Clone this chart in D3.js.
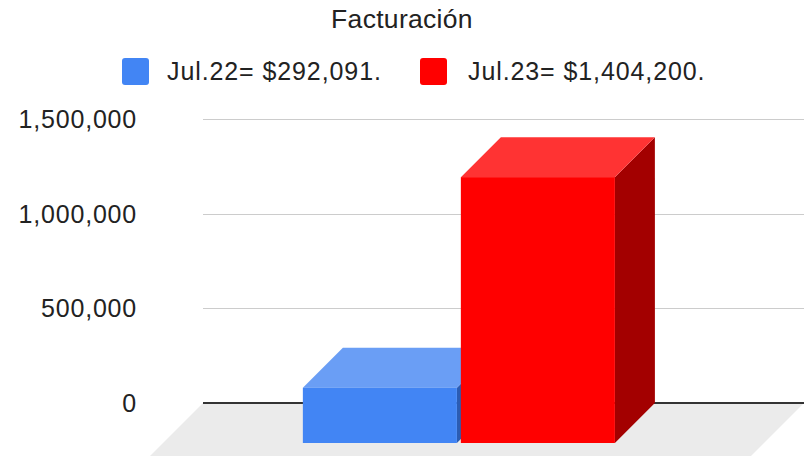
<!DOCTYPE html>
<html>
<head>
<meta charset="utf-8">
<script src="https://cdn.jsdelivr.net/npm/d3@7"></script>
<style>
  body { margin: 0; background: #fff; }
  text { font-family: Arial, "Liberation Sans", sans-serif; fill: #222; }
</style>
</head>
<body>
<svg id="chart" width="804" height="457"></svg>
<script>
// data
const title = "Facturación";
const categories = ["Jul"];
const seriesNames = ["Jul.22= $292,091.", "Jul.23= $1,404,200."];
const seriesValues = [292091, 1404200];
const tickValues = [0, 500000, 1000000, 1500000];
const tickLabels = ["0", "500,000", "1,000,000", "1,500,000"];

const svg = d3.select("#chart");
const W = 804, H = 457;

// back plane of the plot area
const plotLeft = 203, plotRight = 804, plotTop = 119, plotBottom = 403;
const depth = 40;       // bar depth (45 deg)
const floorDepth = 53;

const frontCol = ["#4285f4", "#ff0000"];
const topCol = ["#6a9ef5", "#ff3333"];
const sideCol = ["#2b5cb3", "#a30000"];

const y = d3.scaleLinear().domain([0, 1500000]).range([plotBottom, plotTop]);
const x0 = d3.scaleBand().domain(categories).range([plotLeft, plotRight])
    .paddingInner(0).paddingOuter(0.463).align(0.484);
const x1 = d3.scaleBand().domain(seriesNames).range([0, x0.bandwidth()])
    .paddingInner(0.025).paddingOuter(0);

// title
svg.append("text").attr("x", W / 2).attr("y", 28).attr("text-anchor", "middle")
    .style("font-size", "26.5px").style("letter-spacing", "0.3px").text(title);

// legend
const legendX = [122, 420];
const lg = svg.selectAll(".legend").data(seriesNames).enter().append("g").attr("class", "legend")
    .attr("transform", (d, i) => `translate(${legendX[i]},58)`);
lg.append("rect").attr("width", 27).attr("height", 27).attr("rx", 3)
    .attr("fill", (d, i) => frontCol[i]);
lg.append("text").attr("x", (d, i) => i ? 48 : 45).attr("y", 22).style("font-size", "25px")
    .style("letter-spacing", "0.9px").text(d => d);

// floor
svg.append("polygon")
    .attr("points", [[plotLeft, plotBottom], [plotRight, plotBottom], [plotRight - floorDepth, plotBottom + floorDepth], [plotLeft - floorDepth, plotBottom + floorDepth]].join(" "))
    .attr("fill", "#ebebeb");

// gridlines + labels
svg.selectAll(".grid").data(tickValues.slice(1)).enter().append("line").attr("class", "grid")
    .attr("x1", plotLeft).attr("x2", plotRight)
    .attr("y1", d => Math.round(y(d)) + 0.5).attr("y2", d => Math.round(y(d)) + 0.5)
    .attr("stroke", "#cccccc").attr("stroke-width", 1);
svg.append("line").attr("x1", plotLeft).attr("x2", plotRight).attr("y1", y(0)).attr("y2", y(0))
    .attr("stroke", "#333").attr("stroke-width", 2);

svg.selectAll(".ylab").data(tickValues).enter().append("text").attr("class", "ylab")
    .attr("x", 137).attr("y", d => y(d) + 9).attr("text-anchor", "end")
    .style("font-size", "25px").style("letter-spacing", "0.8px").text((d, i) => tickLabels[i]);

// 3d bars
const bars = svg.selectAll(".bar").data(seriesValues).enter().append("g").attr("class", "bar");
bars.each(function (v, i) {
  const g = d3.select(this);
  const bx = x0(categories[0]) + x1(seriesNames[i]);
  const bw = x1.bandwidth();
  const yv = y(v), yz = y(0);
  // side face
  g.append("polygon").attr("fill", sideCol[i])
      .attr("points", [[bx + bw - depth, yv + depth], [bx + bw, yv], [bx + bw, yz], [bx + bw - depth, yz + depth]].join(" "));
  // top face
  g.append("polygon").attr("fill", topCol[i])
      .attr("points", [[bx - depth, yv + depth], [bx + bw - depth, yv + depth], [bx + bw, yv], [bx, yv]].join(" "));
  // front face
  g.append("rect").attr("fill", frontCol[i])
      .attr("x", bx - depth).attr("y", yv + depth).attr("width", bw).attr("height", yz - yv);
});
</script>
</body>
</html>
